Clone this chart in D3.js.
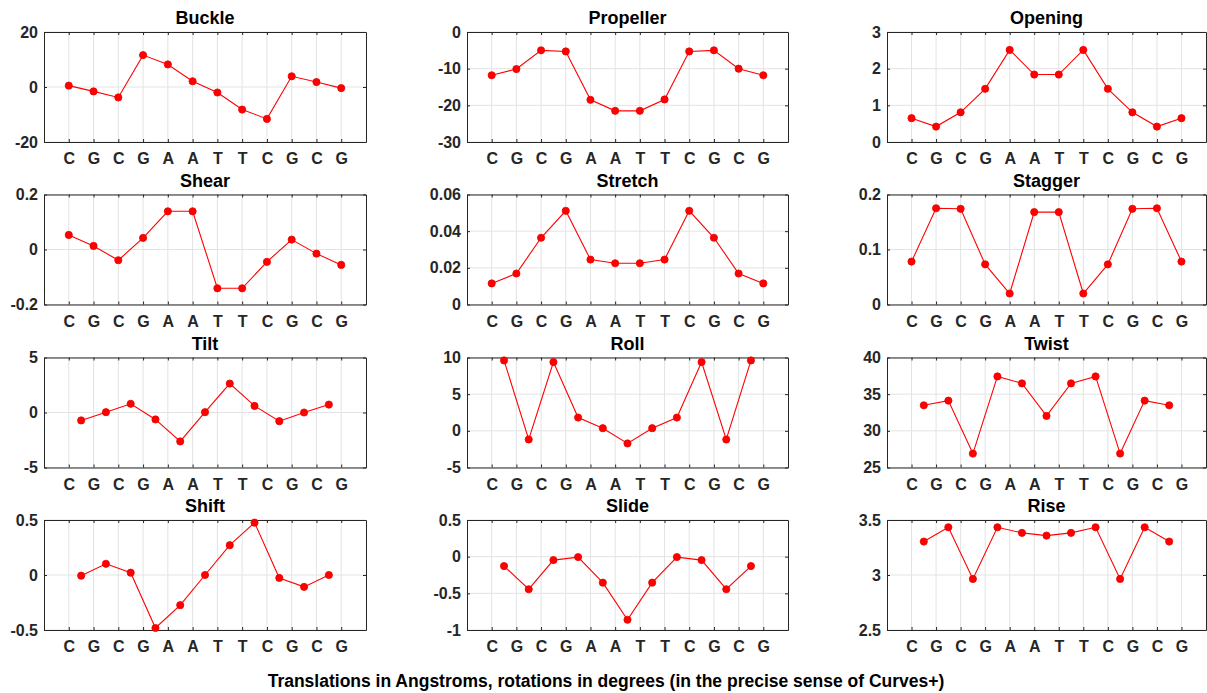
<!DOCTYPE html>
<html>
<head>
<meta charset="utf-8">
<script src="https://cdn.jsdelivr.net/npm/d3@7"></script>
<style>
  html, body { margin: 0; padding: 0; background: #fff; }
  svg { display: block; font-family: "Liberation Sans", Arial, Helvetica, sans-serif; }
</style>
</head>
<body>
<svg id="chart" width="1207" height="693"></svg>
<script>
// Base sequence of the duplex (one letter per base pair)
const bases = ["C", "G", "C", "G", "A", "A", "T", "T", "C", "G", "C", "G"];

// Base-pair parameters (one value per base pair)
const buckle    = [0.5, -1.6, -3.8, 11.6, 8.2, 2.1, -2.0, -8.2, -11.6, 3.9, 1.8, -0.4];
const propeller = [-11.8, -10.1, -5.0, -5.3, -18.5, -21.5, -21.5, -18.4, -5.3, -5.0, -10.0, -11.8];
const opening   = [0.65, 0.42, 0.81, 1.45, 2.51, 1.84, 1.84, 2.51, 1.45, 0.81, 0.42, 0.65];
const shear     = [0.053, 0.013, -0.039, 0.042, 0.139, 0.139, -0.141, -0.141, -0.045, 0.036, -0.015, -0.056];
const stretch   = [0.0115, 0.0169, 0.0364, 0.0511, 0.0245, 0.0225, 0.0225, 0.0245, 0.0511, 0.0364, 0.0169, 0.0115];
const stagger   = [0.078, 0.175, 0.174, 0.073, 0.020, 0.168, 0.168, 0.020, 0.073, 0.174, 0.175, 0.078];

// Base-step parameters (one value per step, between consecutive pairs)
const tilt  = [-0.72, 0.03, 0.79, -0.63, -2.63, 0.03, 2.63, 0.6, -0.79, 0.0, 0.72];
const roll  = [9.6, -1.18, 9.38, 1.81, 0.36, -1.72, 0.36, 1.81, 9.38, -1.18, 9.6];
const twist = [33.48, 34.12, 26.9, 37.42, 36.47, 32.03, 36.47, 37.42, 26.9, 34.12, 33.48];
const shift = [-0.006, 0.102, 0.021, -0.482, -0.274, 0.0, 0.271, 0.476, -0.027, -0.108, 0.0];
const slide = [-0.128, -0.444, -0.047, -0.006, -0.354, -0.86, -0.354, -0.006, -0.047, -0.444, -0.128];
const rise  = [3.304, 3.434, 2.964, 3.434, 3.383, 3.358, 3.383, 3.434, 2.964, 3.434, 3.304];

// Panel titles, in reading order
const titles = ["Buckle", "Propeller", "Opening", "Shear", "Stretch", "Stagger",
                "Tilt", "Roll", "Twist", "Shift", "Slide", "Rise"];

// Y-axis limits and tick labels for each panel
const yDomains = [[-20, 20], [-30, 0], [0, 3], [-0.2, 0.2], [0, 0.06], [0, 0.2],
                  [-5, 5], [-5, 10], [25, 40], [-0.5, 0.5], [-1, 0.5], [2.5, 3.5]];
const yTickLabels = [
  ["-20", "0", "20"], ["-30", "-20", "-10", "0"], ["0", "1", "2", "3"],
  ["-0.2", "0", "0.2"], ["0", "0.02", "0.04", "0.06"], ["0", "0.1", "0.2"],
  ["-5", "0", "5"], ["-5", "0", "5", "10"], ["25", "30", "35", "40"],
  ["-0.5", "0", "0.5"], ["-1", "-0.5", "0", "0.5"], ["2.5", "3", "3.5"]
];

const series = [buckle, propeller, opening, shear, stretch, stagger,
                tilt, roll, twist, shift, slide, rise];

const caption = "Translations in Angstroms, rotations in degrees (in the precise sense of Curves+)";

// Grid layout of the 4 x 3 panels
const colLeft = [44, 467, 887];
const colWidth = [322, 321, 319];
const rowTop = [32, 194.5, 357.5, 520];
const panelH = 110;

const axisColor = "#262626";
const gridColor = "#e3e3e3";
const lineColor = "#ff0000";

const svg = d3.select("#chart");

series.forEach((values, i) => {
  const r = Math.floor(i / 3), c = i % 3;
  const x0 = colLeft[c], y0 = rowTop[r], w = colWidth[c], h = panelH;
  const g = svg.append("g").attr("transform", `translate(${x0},${y0})`);

  const x = d3.scaleLinear().domain([0, bases.length + 1]).range([0, w]);
  const y = d3.scaleLinear().domain(yDomains[i]).range([h, 0]);

  const xTicks = d3.range(1, bases.length + 1);
  const yTicks = yTickLabels[i].map(Number);

  // grid lines
  g.append("g").selectAll("line.gx").data(xTicks).join("line")
    .attr("x1", d => x(d)).attr("x2", d => x(d))
    .attr("y1", 0).attr("y2", h)
    .attr("stroke", gridColor).attr("stroke-width", 1);
  g.append("g").selectAll("line.gy").data(yTicks).join("line")
    .attr("x1", 0).attr("x2", w)
    .attr("y1", d => y(d)).attr("y2", d => y(d))
    .attr("stroke", gridColor).attr("stroke-width", 1);

  // axes: ticks point inward on all four sides
  const tickLen = 3;
  const bottom = d3.axisBottom(x).tickValues(xTicks)
    .tickFormat(d => bases[d - 1]).tickSizeInner(-tickLen).tickSizeOuter(0).tickPadding(8);
  const top = d3.axisTop(x).tickValues(xTicks).tickFormat("").tickSizeInner(-tickLen).tickSizeOuter(0);
  const left = d3.axisLeft(y).tickValues(yTicks)
    .tickFormat((d, k) => yTickLabels[i][k]).tickSizeInner(-tickLen).tickSizeOuter(0).tickPadding(6);
  const right = d3.axisRight(y).tickValues(yTicks).tickFormat("").tickSizeInner(-tickLen).tickSizeOuter(0);

  const axes = [
    g.append("g").attr("transform", `translate(0,${h})`).call(bottom),
    g.append("g").call(top),
    g.append("g").call(left),
    g.append("g").attr("transform", `translate(${w},0)`).call(right)
  ];
  axes.forEach(a => {
    a.select(".domain").attr("stroke", axisColor);
    a.selectAll(".tick line").attr("stroke", axisColor);
    a.selectAll(".tick text")
      .attr("fill", axisColor)
      .style("font-family", '"Liberation Sans", Arial, sans-serif')
      .style("font-size", "16px")
      .style("font-weight", "bold");
  });
  axes[0].selectAll(".tick text").attr("dy", "0.9em");

  // data: pair parameters sit on the bases, step parameters between them
  const offset = values.length === bases.length ? 1 : 1.5;
  const pts = values.map((v, k) => [offset + k, v]);

  g.append("path")
    .datum(pts)
    .attr("fill", "none")
    .attr("stroke", lineColor)
    .attr("stroke-width", 1.1)
    .attr("d", d3.line().x(d => x(d[0])).y(d => y(d[1])));

  g.append("g").selectAll("circle").data(pts).join("circle")
    .attr("cx", d => x(d[0])).attr("cy", d => y(d[1]))
    .attr("r", 3.6)
    .attr("fill", lineColor)
    .attr("stroke", "#ee0000")
    .attr("stroke-width", 0.8);

  // panel title
  svg.append("text")
    .attr("x", x0 + w / 2).attr("y", y0 - 8)
    .attr("text-anchor", "middle")
    .style("font-size", "18px").style("font-weight", "bold")
    .attr("fill", "#000")
    .text(titles[i]);
});

// caption under the grid
svg.append("text")
  .attr("x", 606).attr("y", 687)
  .attr("text-anchor", "middle")
  .style("font-size", "17.5px").style("font-weight", "bold")
  .attr("fill", "#000")
  .text(caption);
</script>
</body>
</html>
